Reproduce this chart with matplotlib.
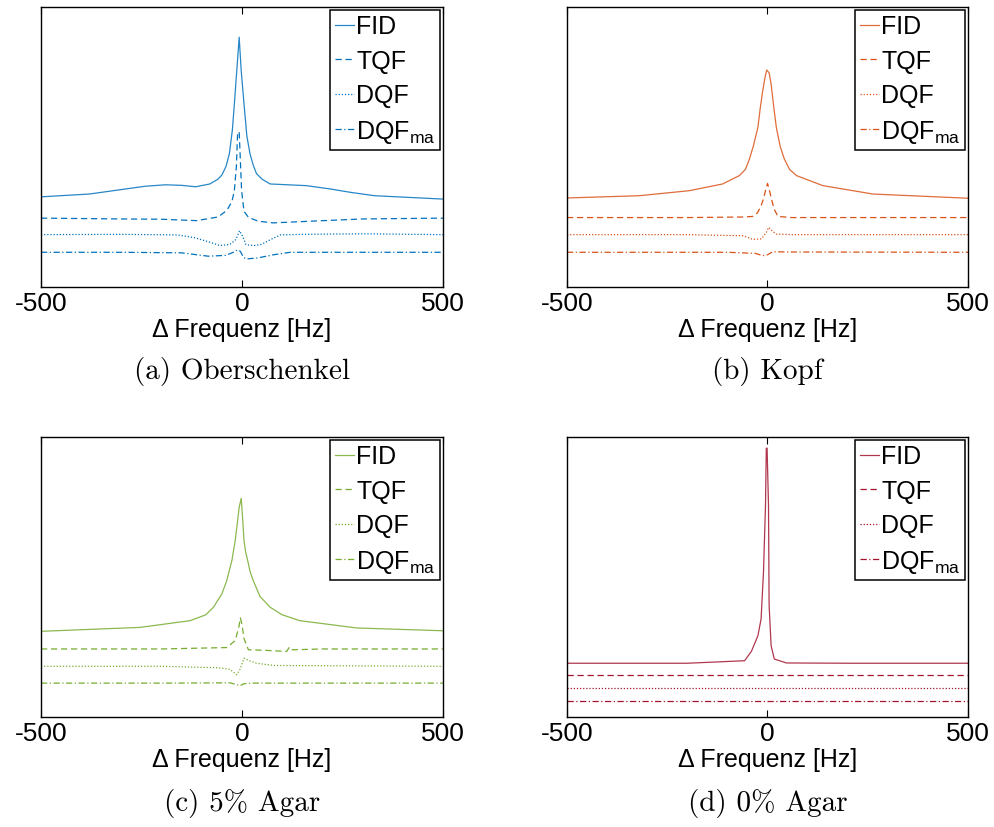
import matplotlib
matplotlib.use("Agg")
import matplotlib.pyplot as plt

plt.rcParams['font.family'] = ['Liberation Sans', 'DejaVu Sans']
plt.rcParams['mathtext.fontset'] = 'custom'
plt.rcParams['mathtext.rm'] = 'Liberation Sans'

# values, y in arbitrary units (0..1 of the axes height)
# (a) Oberschenkel
a_fid_hz = [-500, -380, -290, -240, -190, -150, -115, -80, -60, -50, -40, -31.5, -24, -19, -13, -7, -2, 5, 12, 20, 28, 36, 50, 70, 100, 160, 220, 270, 330, 500]
a_fid = [0.322, 0.332, 0.350, 0.360, 0.365, 0.363, 0.358, 0.368, 0.385, 0.400, 0.430, 0.475, 0.560, 0.654, 0.773, 0.892, 0.773, 0.654, 0.540, 0.475, 0.435, 0.405, 0.385, 0.368, 0.366, 0.362, 0.350, 0.338, 0.326, 0.314]
a_tqf_hz = [-500, -300, -200, -113, -60, -38, -25, -19, -14, -11, -7, -4, -1, 5, 16, 40, 78, 140, 202, 300, 500]
a_tqf = [0.246, 0.243, 0.242, 0.237, 0.250, 0.273, 0.305, 0.344, 0.430, 0.546, 0.555, 0.450, 0.344, 0.270, 0.249, 0.235, 0.229, 0.233, 0.237, 0.243, 0.246]
a_dqf_hz = [-500, -300, -160, -118, -80, -55, -30, -15, -6, 2, 10, 30, 48, 72, 96, 150, 300, 500]
a_dqf = [0.187, 0.188, 0.186, 0.176, 0.160, 0.148, 0.152, 0.170, 0.201, 0.180, 0.151, 0.148, 0.152, 0.170, 0.186, 0.188, 0.190, 0.187]
a_dqfma_hz = [-500, -300, -150, -84, -40, -20, -11, -4, 3, 10, 40, 78, 120, 300, 500]
a_dqfma = [0.124, 0.124, 0.122, 0.110, 0.113, 0.125, 0.133, 0.127, 0.108, 0.100, 0.104, 0.115, 0.124, 0.124, 0.124]

# (b) Kopf
b_fid_hz = [-500, -320, -195, -112, -70, -55, -45, -35, -24, -18, -12, -6, -2, 4, 9, 15, 22, 32, 42, 55, 72, 138, 263, 500]
b_fid = [0.318, 0.326, 0.344, 0.368, 0.398, 0.420, 0.457, 0.505, 0.570, 0.640, 0.700, 0.750, 0.775, 0.765, 0.725, 0.650, 0.570, 0.500, 0.457, 0.420, 0.398, 0.362, 0.332, 0.317]
b_tqf_hz = [-500, -200, -60, -37, -25, -16, -10, -5, 0, 4, 9, 16, 26, 60, 200, 500]
b_tqf = [0.248, 0.248, 0.250, 0.252, 0.265, 0.290, 0.315, 0.344, 0.370, 0.350, 0.320, 0.280, 0.252, 0.248, 0.248, 0.248]
b_dqf_hz = [-500, -200, -60, -37, -15, -3, 3, 12, 22, 60, 200, 500]
b_dqf = [0.187, 0.187, 0.183, 0.170, 0.172, 0.195, 0.213, 0.200, 0.189, 0.187, 0.187, 0.187]
b_dqfma_hz = [-500, -100, -30, -12, 0, 13, 50, 500]
b_dqfma = [0.124, 0.124, 0.120, 0.112, 0.115, 0.126, 0.125, 0.124]

# (c) 5% Agar
c_fid_hz = [-500, -254, -129, -90, -71, -50, -38, -25, -17, -11, -7, -2, 2, 5, 9, 14, 20, 28, 45, 70, 100, 144, 285, 500]
c_fid = [0.306, 0.320, 0.344, 0.365, 0.392, 0.440, 0.487, 0.560, 0.630, 0.700, 0.749, 0.781, 0.700, 0.630, 0.590, 0.560, 0.520, 0.487, 0.430, 0.392, 0.365, 0.344, 0.318, 0.308]
c_tqf_hz = [-500, -200, -38, -17, -8, -4, 0, 5, 16, 60, 111, 118, 125, 200, 500]
c_tqf = [0.243, 0.243, 0.248, 0.273, 0.320, 0.354, 0.330, 0.280, 0.240, 0.238, 0.234, 0.250, 0.240, 0.243, 0.243]
c_dqf_hz = [-500, -200, -60, -30, -13, -5, 5, 20, 36, 80, 500]
c_dqf = [0.181, 0.181, 0.176, 0.170, 0.151, 0.170, 0.210, 0.200, 0.192, 0.184, 0.181]
c_dqfma_hz = [-500, -200, -30, -5, 5, 30, 500]
c_dqfma = [0.121, 0.121, 0.122, 0.112, 0.119, 0.121, 0.121]

# (d) 0% Agar
d_fid_hz = [-500, -200, -57, -40, -24, -16, -10, -5, -3, -1, 2.5, 4, 9, 17, 47, 200, 500]
d_fid = [0.192, 0.192, 0.201, 0.235, 0.290, 0.350, 0.518, 0.755, 0.960, 0.960, 0.755, 0.400, 0.255, 0.207, 0.193, 0.192, 0.192]
d_tqf_hz = [-500, 500]
d_tqf = [0.151, 0.151]
d_dqf_hz = [-500, 500]
d_dqf = [0.102, 0.102]
d_dqfma_hz = [-500, 500]
d_dqfma = [0.056, 0.056]

panels = [
    ('(a) Oberschenkel', '#0072BD', a_fid_hz, a_fid, a_tqf_hz, a_tqf, a_dqf_hz, a_dqf, a_dqfma_hz, a_dqfma),
    ('(b) Kopf', '#D95319', b_fid_hz, b_fid, b_tqf_hz, b_tqf, b_dqf_hz, b_dqf, b_dqfma_hz, b_dqfma),
    ('(c) 5% Agar', '#77AC30', c_fid_hz, c_fid, c_tqf_hz, c_tqf, c_dqf_hz, c_dqf, c_dqfma_hz, c_dqfma),
    ('(d) 0% Agar', '#A2142F', d_fid_hz, d_fid, d_tqf_hz, d_tqf, d_dqf_hz, d_dqf, d_dqfma_hz, d_dqfma),
]

W, H = 995, 828
fig = plt.figure(figsize=(W / 100, H / 100), dpi=100)

# axes boxes in pixels: left, top, right, bottom
boxes = [(41, 8, 443, 288), (567, 8, 968, 288), (41, 438, 443, 718), (567, 438, 968, 718)]
caption_y = [372, 372, 804, 804]

for (caption, col, fx, fy, tx, ty, dx, dy, mx, my), (l, t, r, b), cy in zip(panels, boxes, caption_y):
    ax = fig.add_axes([l / W, 1 - b / H, (r - l) / W, (b - t) / H])
    ax.plot(fx, fy, '-', color=col, lw=0.9, alpha=0.85, label='FID')
    ax.plot(tx, ty, '--', color=col, lw=0.9, dashes=(5, 3), label='TQF')
    ax.plot(dx, dy, ':', color=col, lw=0.9, dashes=(1, 1.5), label='DQF')
    ax.plot(mx, my, '-.', color=col, lw=0.9, dashes=(5, 2, 1, 2), label=r'DQF$_\mathregular{ma}$')
    ax.set_xlim(-500, 500)
    ax.set_ylim(0, 1)
    ax.set_xticks([-500, 0, 500])
    ax.set_xticklabels(['-500', '0', '500'])
    ax.set_yticks([])
    ax.tick_params(axis='x', direction='in', top=True, length=5, width=0.8, labelsize=19, pad=3)
    for s in ax.spines.values():
        s.set_linewidth(1.0)
    ax.set_xlabel('Δ Frequenz [Hz]', fontsize=18, labelpad=1)
    leg = ax.legend(loc='upper right', fontsize=18, handlelength=0.75, handletextpad=0.1,
                    labelspacing=0.42, borderpad=0.2, borderaxespad=0.1, fancybox=False,
                    framealpha=1)
    leg.get_frame().set_edgecolor('black')
    leg.get_frame().set_linewidth(1.1)
    fig.text((l + r) / 2 / W, 1 - cy / H, caption, family='cmr10', fontsize=21,
             ha='center', va='center')

fig.savefig('out.png', dpi=100)
